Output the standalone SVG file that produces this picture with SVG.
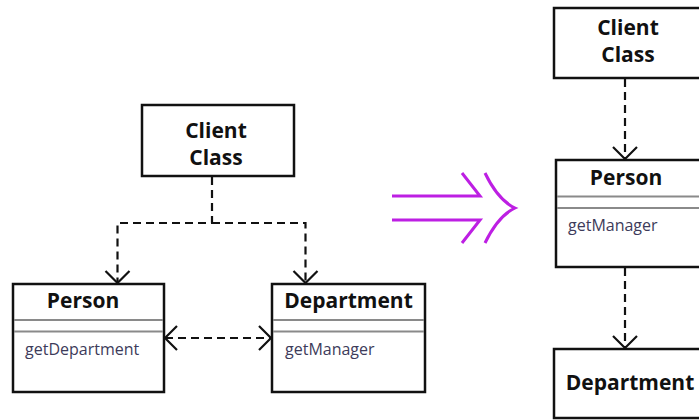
<svg xmlns="http://www.w3.org/2000/svg" width="699" height="420" viewBox="0 0 699 420">
  <style>
    .box { fill: #ffffff; stroke: #111111; stroke-width: 2.5; }
    .sep { stroke: #8a8a8a; stroke-width: 2; }
    .title { font-family: "Open Sans", "Liberation Sans", sans-serif; font-weight: 700; font-size: 21px; fill: #111111; text-anchor: middle; }
    .method { font-family: "Open Sans", "Liberation Sans", sans-serif; font-size: 16px; fill: #3d3b5a; }
    .dep { fill: none; stroke: #111111; stroke-width: 2.2; stroke-dasharray: 8 5; }
    .refactor { fill: none; stroke: #bd1fe3; stroke-width: 3; stroke-linecap: butt; }
  </style>
  <defs>
    <marker id="open-arrow" markerUnits="userSpaceOnUse" viewBox="-15 -15 30 30" markerWidth="30" markerHeight="30" refX="0" refY="0" orient="auto-start-reverse">
      <path d="M-12,-12 L0,0 L-12,12" fill="none" stroke="#111111" stroke-width="2.2"/>
    </marker>
  </defs>

  <rect width="699" height="420" fill="#ffffff"/>

  <!-- before: client depends on both classes -->
  <g id="client-before">
    <rect class="box" x="142" y="105" width="152" height="71"/>
    <text class="title" x="216" y="138">Client</text>
    <text class="title" x="216" y="165">Class</text>
  </g>
  <g id="person-before">
    <rect class="box" x="13" y="284" width="151" height="108"/>
    <line class="sep" x1="14" y1="320" x2="163" y2="320"/>
    <line class="sep" x1="14" y1="331.5" x2="163" y2="331.5"/>
    <text class="title" x="83" y="308">Person</text>
    <text class="method" x="25" y="355">getDepartment</text>
  </g>
  <g id="department-before">
    <rect class="box" x="272" y="284" width="153" height="108"/>
    <line class="sep" x1="273" y1="320" x2="424" y2="320"/>
    <line class="sep" x1="273" y1="331.5" x2="424" y2="331.5"/>
    <text class="title" x="348.5" y="308">Department</text>
    <text class="method" x="285" y="355">getManager</text>
  </g>

  <!-- after: client only talks to Person -->
  <g id="client-after">
    <rect class="box" x="554" y="8" width="150" height="70"/>
    <text class="title" x="628" y="35">Client</text>
    <text class="title" x="628" y="62">Class</text>
  </g>
  <g id="person-after">
    <rect class="box" x="556" y="160" width="150" height="107"/>
    <line class="sep" x1="557" y1="196.5" x2="704" y2="196.5"/>
    <line class="sep" x1="557" y1="208" x2="704" y2="208"/>
    <text class="title" x="626" y="185">Person</text>
    <text class="method" x="568" y="231">getManager</text>
  </g>
  <g id="department-after">
    <rect class="box" x="554" y="349" width="150" height="69"/>
    <text class="title" x="630" y="390">Department</text>
  </g>

  <g id="connectors">
    <path class="dep" d="M212,177 V223 H117.5 V283" marker-end="url(#open-arrow)"/>
    <path class="dep" d="M212,223 H305.5 V283" marker-end="url(#open-arrow)"/>
    <path class="dep" d="M165,338 H271" marker-start="url(#open-arrow)" marker-end="url(#open-arrow)"/>
    <path class="dep" d="M625,79 V159" marker-end="url(#open-arrow)"/>
    <path class="dep" d="M625,268 V348" marker-end="url(#open-arrow)"/>
  </g>

  <!-- refactoring arrow -->
  <g id="refactor-arrow">
    <path class="refactor" d="M392,196 H480 L462,173"/>
    <path class="refactor" d="M392,220 H480 L462,243"/>
    <path class="refactor" d="M485,173 Q498,200 515,208 Q498,216 485,243"/>
  </g>
</svg>
